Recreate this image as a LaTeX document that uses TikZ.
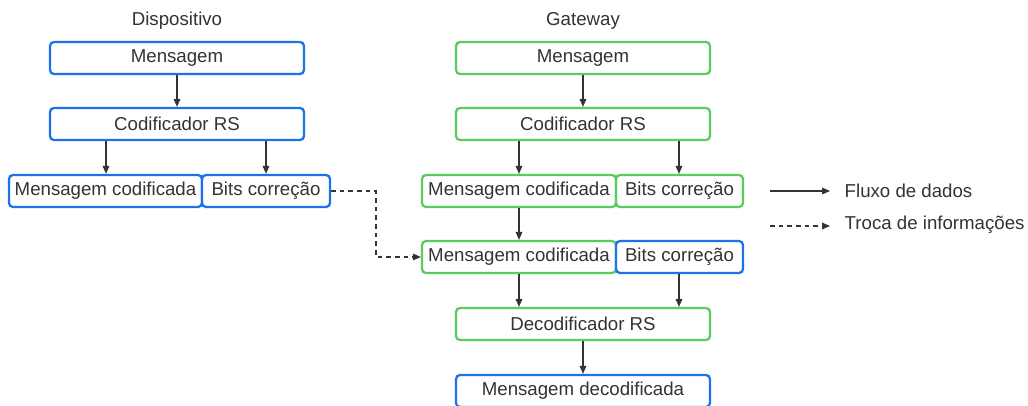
\documentclass[tikz,border=0pt]{standalone}
\usepackage{fontspec}
\setmainfont{Liberation Sans}
\usetikzlibrary{arrows.meta,calc}
\definecolor{boxblue}{HTML}{1A73E8}
\definecolor{boxgreen}{HTML}{5CCB5F}
\definecolor{ink}{HTML}{333333}
\tikzset{
  box/.style={draw, rounded corners=3pt, line width=1.7pt, fill=white,
    inner sep=0pt, minimum height=24pt, text=ink,
    font=\fontsize{14}{16}\selectfont},
  bluebox/.style={box, draw=boxblue},
  greenbox/.style={box, draw=boxgreen},
  flow/.style={draw=ink, line width=0.8pt, -{Triangle[length=6pt,width=5pt]}},
  exchange/.style={flow, dash pattern=on 3.5pt off 3pt},
  title/.style={text=ink, font=\fontsize{14}{16}\selectfont},
}
\begin{document}
\begin{tikzpicture}[x=0.75pt, y=-0.75pt]
\clip (0,0) rectangle (1028,405);
\fill[white] (0,0) rectangle (1028,405);

% Device side
\node[title] (tdev) at (177,21) {Dispositivo};
\node[bluebox, minimum width=190.5pt] (dmsg) at (177,58) {Mensagem};
\node[bluebox, minimum width=190.5pt] (dcod) at (177,124) {Codificador RS};
\node[bluebox, minimum width=144.75pt] (dmc) at (105.5,191) {Mensagem codificada};
\node[bluebox, minimum width=96pt] (dbits) at (266,191) {Bits correção};

% Gateway side
\node[title] (tgw) at (583,21) {Gateway};
\node[greenbox, minimum width=190.5pt] (gmsg) at (583,58) {Mensagem};
\node[greenbox, minimum width=190.5pt] (gcod) at (583,124) {Codificador RS};
\node[greenbox, minimum width=145.5pt] (gmc1) at (519,191) {Mensagem codificada};
\node[greenbox, minimum width=95.25pt] (gbits1) at (679.5,191) {Bits correção};
\node[greenbox, minimum width=145.5pt] (gmc2) at (519,257) {Mensagem codificada};
\node[bluebox, minimum width=95.25pt] (gbits2) at (679.5,257) {Bits correção};
\node[greenbox, minimum width=190.5pt] (gdec) at (583,324) {Decodificador RS};
\node[bluebox, minimum width=190.5pt] (gout) at (583,391) {Mensagem decodificada};

% Data flow
\draw[flow] (dmsg) -- (dcod);
\draw[flow] (dcod.south -| 106,0) -- (dmc.north -| 106,0);
\draw[flow] (dcod.south -| dbits) -- (dbits);
\draw[flow] (gmsg) -- (gcod);
\draw[flow] (gcod.south -| gmc1) -- (gmc1);
\draw[flow] (gcod.south -| 679,0) -- (gbits1.north -| 679,0);
\draw[flow] (gmc1) -- (gmc2);
\draw[flow] (gmc2.south) -- (gdec.north -| gmc2);
\draw[flow] (gbits2.south -| 679,0) -- (gdec.north -| 679,0);
\draw[flow] (gdec) -- (gout);

% Information exchange
\draw[exchange] (dbits.east) -| (376,257) -- (gmc2.west);

% Legend
\coordinate (l1a) at (770,191);
\coordinate (l1b) at (830,191);
\coordinate (l2a) at (770,226);
\coordinate (l2b) at (830,226);
\draw[flow] (l1a) -- (l1b);
\draw[exchange] (l2a) -- (l2b);
\node[title, anchor=west] (lg1) at (840,191) {Fluxo de dados};
\node[title, anchor=west] (lg2) at (840,225) {Troca de informações};
\end{tikzpicture}
\end{document}
